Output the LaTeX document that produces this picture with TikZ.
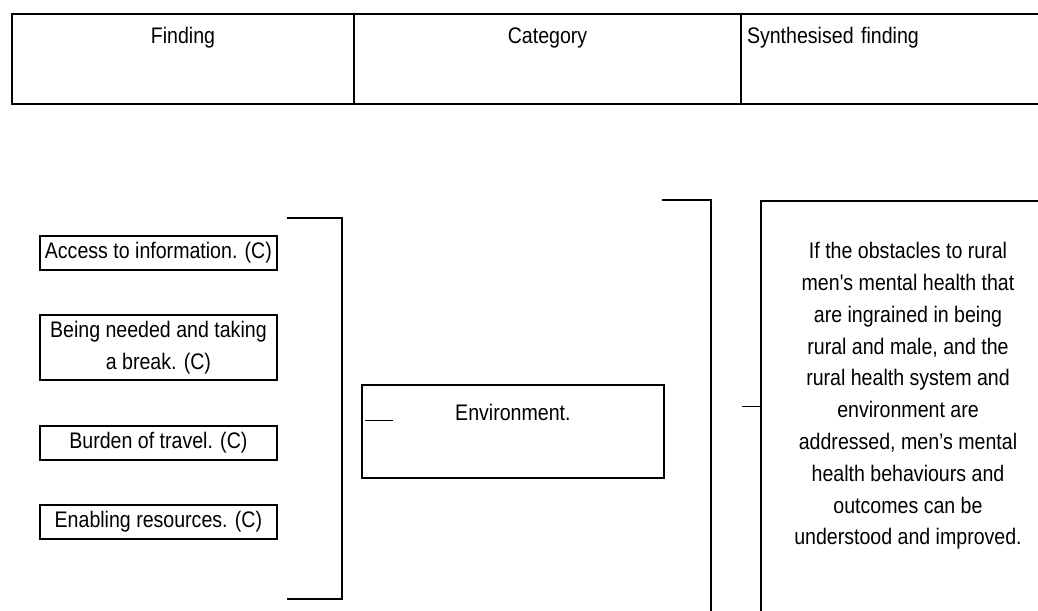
\documentclass[tikz,border=0pt]{standalone}
\usepackage{fontspec}
\setmainfont{Liberation Sans}[FakeStretch=0.87, Ligatures=TeXOff]
\begin{document}
\begin{tikzpicture}[x=1pt,y=-1pt,
  every node/.style={font=\fontsize{22.5}{31.8}\selectfont, inner sep=0pt},
  cell/.style={draw, line width=2pt, anchor=north west, minimum height=90pt, text height=20pt, text depth=50pt},
  fbox/.style={draw, line width=1.8pt, anchor=north west, align=center, minimum width=237pt},
  bigbox/.style={draw, line width=1.8pt, anchor=north west},
  bracket/.style={line width=1.8pt},
  stub/.style={line width=1pt}]
\useasboundingbox (0,0) rectangle (1038,610);
\clip (0,0) rectangle (1038,610);
% header row
\node[cell, minimum width=342pt] (h1) at (11,13) {Finding};
\node[cell, minimum width=387pt] (h2) at (353,13) {Category};
\node[cell, minimum width=330pt, inner xsep=6pt, text width=318pt, align=left] (h3) at (740,13) {Synthesised finding};
% findings
\node[fbox, minimum height=34pt] (f1) at (39,235) {Access to information. (C)};
\node[fbox, minimum height=65pt] (f2) at (39,314) {Being needed and taking\\a break. (C)};
\node[fbox, minimum height=34pt] (f3) at (39,425) {Burden of travel. (C)};
\node[fbox, minimum height=34pt] (f4) at (39,504) {Enabling resources. (C)};
% bracket 1
\coordinate (b1a) at (287,218);
\coordinate (b1b) at (342,218);
\coordinate (b1c) at (342,599);
\coordinate (b1d) at (287,599);
\draw[bracket] (b1a) -- (b1b) -- (b1c) -- (b1d);
% category
\node[bigbox, minimum width=302pt, minimum height=93pt, text height=20pt, text depth=41pt] (env) at (361,384) {Environment.};
\coordinate (envstub) at (393,420);
\draw[stub] ([xshift=4pt]env.west |- envstub) -- (envstub);
% bracket 2
\coordinate (b2a) at (662,200);
\coordinate (b2b) at (711,200);
\coordinate (b2c) at (711,625);
\draw[bracket] (b2a) -- (b2b) -- (b2c);
% synthesised finding
\node[bigbox, minimum width=296pt, minimum height=440pt] (syn) at (760,200) {};
\node[align=center] (syntext) at (908,396) {If the obstacles to rural\\men's mental health that\\are ingrained in being\\rural and male, and the\\rural health system and\\environment are\\addressed, men’s mental\\health behaviours and\\outcomes can be\\understood and improved.};
\coordinate (c2) at (742,406);
\draw[stub] (c2) -- (c2 -| syn.west);
\end{tikzpicture}
\end{document}
